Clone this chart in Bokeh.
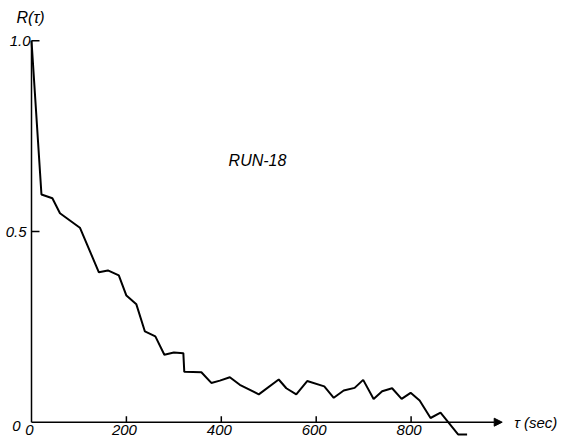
from bokeh.plotting import figure
from bokeh.models import Range1d, Arrow, NormalHead, Label
from bokeh.core.properties import value
from bokeh.embed import file_html
from bokeh.resources import INLINE

# Autocorrelation of RUN-18
tau = [0, 21, 44, 60, 102, 142, 161, 184, 200, 221, 239, 261, 280, 300, 320,
       322, 358, 379, 397, 418, 439, 479, 521, 537, 558, 581, 617, 637, 658,
       681, 699, 721, 739, 760, 780, 799, 818, 841, 862, 899, 918]
r = [1.0, 0.597, 0.587, 0.548, 0.51, 0.393, 0.398, 0.385, 0.332, 0.309, 0.238,
     0.225, 0.177, 0.183, 0.181, 0.132, 0.131, 0.103, 0.109, 0.118, 0.098,
     0.073, 0.112, 0.089, 0.073, 0.108, 0.094, 0.064, 0.083, 0.09, 0.111,
     0.061, 0.081, 0.089, 0.061, 0.077, 0.057, 0.011, 0.025, -0.032, -0.032]

x_ticks = [200, 400, 600, 800]
x_tick_labels = ["200", "400", "600", "800"]
y_ticks = [0.5, 1.0]
y_tick_labels = ["0.5", "1.0"]

W, H = 563, 441
# pixel scale of the plotting area
X0_PX, PX_PER_X = 31.0, 0.4745
Y0_PX, PX_PER_Y = 421.7, 381.4
X_END = 992  # end of the time axis arrow

FONT = "Liberation Sans"

p = figure(width=W, height=H, output_backend="svg", toolbar_location=None,
           x_range=Range1d(-X0_PX / PX_PER_X, (W - X0_PX) / PX_PER_X),
           y_range=Range1d(-(H - Y0_PX) / PX_PER_Y, Y0_PX / PX_PER_Y),
           x_axis_location=None, y_axis_location=None, min_border=0)
p.outline_line_color = None
p.grid.visible = False
p.background_fill_color = "white"
p.border_fill_color = "white"

# axes
p.line([0, 0], [0, 1.0], line_color="black", line_width=1.5)
p.add_layout(Arrow(x_start=0, y_start=0, x_end=X_END, y_end=0,
                   line_color="black", line_width=1.5,
                   end=NormalHead(size=8, fill_color="black", line_color="black")))

# tick marks (pointing inside)
p.segment(x0=x_ticks, y0=[0] * len(x_ticks), x1=x_ticks,
          y1=[6 / PX_PER_Y] * len(x_ticks), line_color="black", line_width=1.5)
p.segment(x0=[0] * len(y_ticks), y0=y_ticks, x1=[8 / PX_PER_X] * len(y_ticks),
          y1=y_ticks, line_color="black", line_width=1.5)

# tick labels
p.text(x=[0] + x_ticks, y=[0] * (len(x_ticks) + 1), text=["0"] + x_tick_labels,
       x_offset=-2, y_offset=3, text_align="center", text_baseline="top",
       text_font=value(FONT), text_font_style="italic", text_font_size="15px",
       text_color="black")
p.text(x=[0, 0, 0], y=[0] + y_ticks, text=["0"] + y_tick_labels,
       x_offset=[-11, -5, -1], y_offset=[4, 0, 0], text_align="right",
       text_baseline="middle", text_font=value(FONT), text_font_style="italic",
       text_font_size="15px", text_color="black")

# the curve
p.line(tau, r, line_color="black", line_width=2)

# axis titles and run label
p.add_layout(Label(x=16, y=H - 17, x_units="screen", y_units="screen",
                   text="R(τ)", text_font=FONT, text_font_style="italic",
                   text_font_size="16px", text_baseline="middle",
                   text_color="black"))
p.add_layout(Label(x=X_END + 12 / PX_PER_X, y=0, text="τ (sec)",
                   text_font=FONT, text_font_style="italic",
                   text_font_size="15px", text_baseline="middle",
                   text_color="black"))
p.add_layout(Label(x=257, y=H - 160, x_units="screen", y_units="screen",
                   text="RUN-18", text_font=FONT, text_font_style="italic",
                   text_font_size="16px", text_align="center",
                   text_baseline="middle", text_color="black"))

open("out.html", "w").write(file_html(p, INLINE))
